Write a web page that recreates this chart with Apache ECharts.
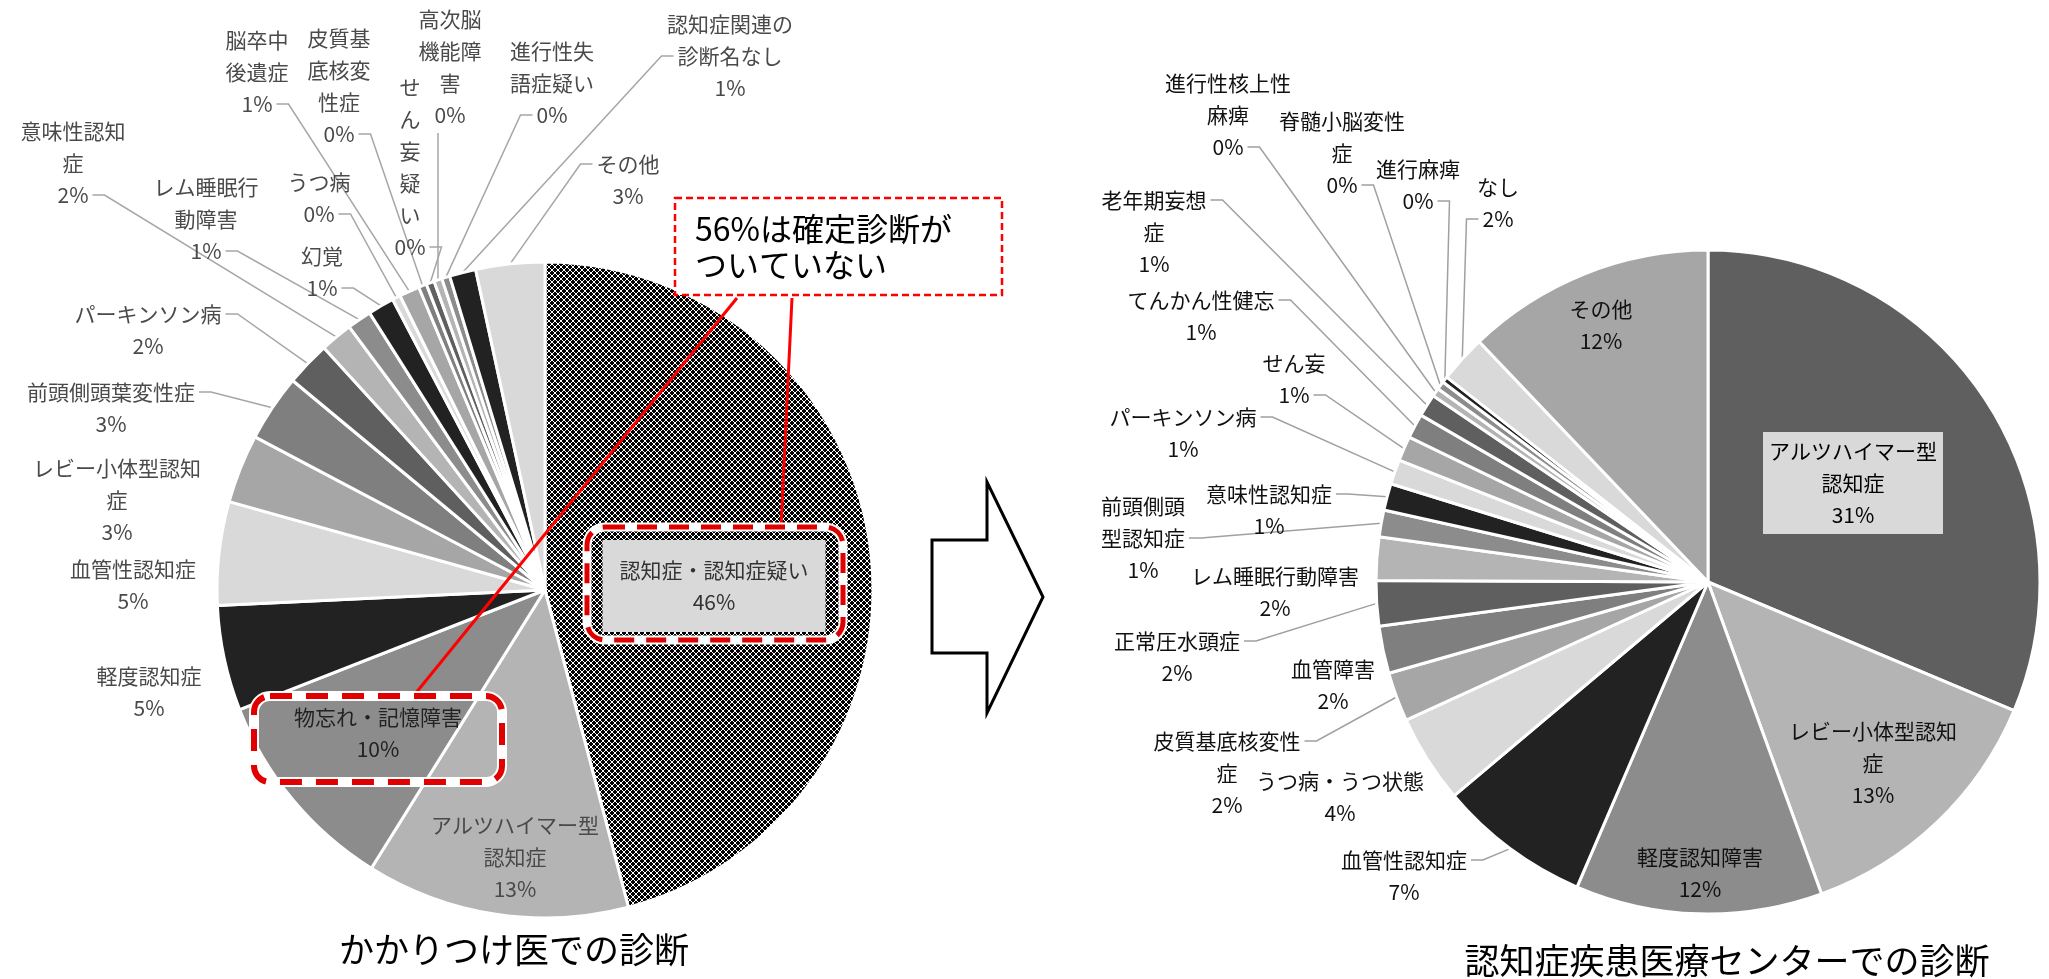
<!DOCTYPE html>
<html><head><meta charset="utf-8">
<script src="https://cdn.jsdelivr.net/npm/echarts@6/dist/echarts.min.js"></script>
<style>html,body{margin:0;padding:0;background:#fff}#c{width:2049px;height:979px}</style>
</head><body><div id="c"></div>
<script>
// ---------- data ----------
const leftCategories = ['認知症・認知症疑い','アルツハイマー型\n認知症','物忘れ・記憶障害','軽度認知症','血管性認知症','レビー小体型認知\n症','前頭側頭葉変性症','パーキンソン病','意味性認知\n症','レム睡眠行\n動障害','幻覚','うつ病','脳卒中\n後遺症','皮質基\n底核変\n性症','せ\nん\n妄\n疑\nい','高次脳\n機能障\n害','進行性失\n語症疑い','認知症関連の\n診断名なし','その他'];
const leftValues = [46.0, 13.0, 10.2, 5.2, 5.1, 3.4, 3.3, 2.2, 1.6, 1.2, 1.3, 0.4, 1.0, 0.4, 0.4, 0.4, 0.4, 1.3, 3.4];
const rightCategories = ['アルツハイマー型\n認知症','レビー小体型認知\n症','軽度認知障害','血管性認知症','うつ病・うつ状態','皮質基底核変性\n症','血管障害','正常圧水頭症','レム睡眠行動障害','前頭側頭\n型認知症','意味性認知症','パーキンソン病','せん妄','てんかん性健忘','老年期妄想\n症','進行性核上性\n麻痺','脊髄小脳変性\n症','進行麻痺','なし','その他'];
const rightValues = [31.3, 13.1, 12.0, 7.4, 4.3, 2.4, 2.3, 2.2, 2.1, 1.3, 1.3, 1.2, 1.2, 1.2, 1.1, 0.4, 0.4, 0.3, 2.3, 12.1];
const chartTitles = ['かかりつけ医での診断', '認知症疾患医療センターでの診断'];
const calloutText = '56%は確定診断が\nついていない';

// ---------- layout (label centre offsets from pie centre, attach row; -1 = no leader) ----------
const leftCenter = [545, 590], leftRadius = 328;
const rightCenter = [1708, 582], rightRadius = 332;
const leftLabelLayout = [[169,-4,-1],[-30,267,-1],[-167,143,-1],[-396,102,-1],[-412,-5,-1],[-428,-90,-1],[-434,-182,0],[-397,-260,0],[-472,-427,2],[-339,-371,2],[-223,-318,1],[-226,-392,1],[-288,-518,2],[-206,-504,3],[-135,-423,5],[-95,-523,3],[7,-507,2],[185,-534,1],[83,-410,0]];
const rightLabelLayout = [[145,-99,-1],[165,181,-1],[-8,291,-1],[-304,294,0],[-368,215,-1],[-481,191,0],[-375,103,-1],[-531,75,0],[-433,10,-1],[-565,-44,1],[-439,-72,0],[-525,-149,0],[-414,-203,1],[-507,-266,0],[-554,-350,0],[-480,-467,2],[-366,-429,2],[-290,-397,1],[-210,-379,1],[-107,-257,-1]];
const palette = ['#5f5f5f','#b4b4b4','#8c8c8c','#222222','#d9d9d9','#a6a6a6','#7f7f7f'];
const FONT = '"Noto Sans CJK JP","Noto Sans",sans-serif';
const FS = 21, LH = 32;

// hatch pattern
const pc = document.createElement('canvas'); pc.width = 6; pc.height = 6;
const pg = pc.getContext('2d'); pg.fillStyle = '#000'; pg.fillRect(0,0,6,6);
pg.fillStyle = '#fff';
for (let i = 0; i < 6; i++) { pg.fillRect(i, i, 1, 1); pg.fillRect(5 - i, i, 1, 1); }

const mc = document.createElement('canvas').getContext('2d');
function measure(t) { mc.font = FS + 'px ' + FONT; return mc.measureText(t).width; }

function makeLayout(center, layout) {
  return function (params) {
    const cfg = layout[params.dataIndex];
    const x = center[0] + cfg[0], y = center[1] + cfg[1];
    const res = { x: x, y: y, align: 'center', verticalAlign: 'middle' };
    const pts = params.labelLinePoints;
    if (cfg[2] >= 0 && pts) {
      const rim = pts[0];
      const lines = String(params.text).split('\n');
      const H = params.labelRect.height;
      const rowY = y - H / 2 + LH * cfg[2] + LH / 2;
      const w = measure(lines[cfg[2]] || '');
      const l = x - w / 2 - 4, r = x + w / 2 + 4;
      let a, b;
      if (rim[0] > r) { a = [r, rowY]; b = [r + 12, rowY]; }
      else if (rim[0] < l) { a = [l, rowY]; b = [l - 12, rowY]; }
      else { a = [rim[0], y + H / 2 + 2]; b = a; }
      res.labelLinePoints = [[rim[0], rim[1]], b, a];
    }
    return res;
  };
}

function buildData(cats, vals, layout, first) {
  return cats.map(function (n, i) {
    const item = {
      name: n, value: vals[i],
      itemStyle: { color: palette[i % 7] },
      labelLine: { show: layout[i][2] >= 0 }
    };
    if (i === 0 && first) item.itemStyle.color = first;
    return item;
  });
}
const leftData = buildData(leftCategories, leftValues, leftLabelLayout, { image: pc, repeat: 'repeat' });
leftData[0].label = { backgroundColor: '#d9d9d9', padding: [14, 17], color: '#333' };
leftData[2].label = { color: '#222' };
const rightData = buildData(rightCategories, rightValues, rightLabelLayout, null);
rightData[0].label = { backgroundColor: '#d9d9d9', padding: [3, 6], color: '#000' };

function fmt(p) { return p.name + '\n' + Math.round(p.value) + '%'; }

const chart = echarts.init(document.getElementById('c'), null, { renderer: 'canvas' });
chart.setOption({
  animation: false,
  backgroundColor: '#fff',
  series: [
    {
      type: 'pie', center: leftCenter, radius: leftRadius, startAngle: 90, clockwise: true,
      avoidLabelOverlap: false, data: leftData,
      itemStyle: { borderColor: '#fff', borderWidth: 3 },
      label: { position: 'outside', formatter: fmt, fontFamily: FONT, fontSize: FS, lineHeight: LH, color: '#4a4a4a', align: 'center' },
      labelLine: { show: true, lineStyle: { color: '#a6a6a6', width: 1.5 } },
      labelLayout: makeLayout(leftCenter, leftLabelLayout),
      emphasis: { disabled: true }
    },
    {
      type: 'pie', center: rightCenter, radius: rightRadius, startAngle: 90, clockwise: true,
      avoidLabelOverlap: false, data: rightData,
      itemStyle: { borderColor: '#fff', borderWidth: 3 },
      label: { position: 'outside', formatter: fmt, fontFamily: FONT, fontSize: FS, lineHeight: LH, color: '#111', align: 'center' },
      labelLine: { show: true, lineStyle: { color: '#a0a0a0', width: 1.5 } },
      labelLayout: makeLayout(rightCenter, rightLabelLayout),
      emphasis: { disabled: true }
    }
  ],
  graphic: [
    { type: 'text', z: 20, style: { text: chartTitles[0], x: 514, y: 950, align: 'center', verticalAlign: 'middle', font: '35px ' + FONT, fill: '#000' } },
    { type: 'text', z: 20, style: { text: chartTitles[1], x: 1727, y: 961, align: 'center', verticalAlign: 'middle', font: '35px ' + FONT, fill: '#000' } },
    { type: 'polygon', z: 20, shape: { points: [[932,540],[987,540],[987,482],[1043,597],[987,713],[987,653],[932,653]] }, style: { fill: '#fff', stroke: '#000', lineWidth: 3 } },
    // callout
    { type: 'line', z: 20, shape: { x1: 737, y1: 298, x2: 415, y2: 694 }, style: { stroke: '#ff0000', lineWidth: 3 } },
    { type: 'line', z: 20, shape: { x1: 792, y1: 298, x2: 781, y2: 527 }, style: { stroke: '#ff0000', lineWidth: 3 } },
    { type: 'rect', z: 21, shape: { x: 675, y: 198, width: 327, height: 97 }, style: { fill: '#fff', stroke: '#ff0000', lineWidth: 2.5, lineDash: [7, 4] } },
    { type: 'text', z: 22, style: { text: calloutText, x: 695, y: 247, align: 'left', verticalAlign: 'middle', font: '32px ' + FONT, lineHeight: 36, fill: '#000' } },
    // highlight boxes
    { type: 'rect', z: 20, shape: { x: 587, y: 527, width: 256, height: 113, r: 18 }, style: { fill: 'none', stroke: '#fff', lineWidth: 9 } },
    { type: 'rect', z: 21, shape: { x: 587, y: 527, width: 256, height: 113, r: 18 }, style: { fill: 'none', stroke: '#e00000', lineWidth: 5, lineDash: [20, 12] } },
    { type: 'rect', z: 20, shape: { x: 254, y: 696, width: 248, height: 86, r: 16 }, style: { fill: 'none', stroke: '#fff', lineWidth: 10 } },
    { type: 'rect', z: 21, shape: { x: 254, y: 696, width: 248, height: 86, r: 16 }, style: { fill: 'none', stroke: '#e00000', lineWidth: 6, lineDash: [22, 14] } }
  ]
});
</script>
</body></html>
